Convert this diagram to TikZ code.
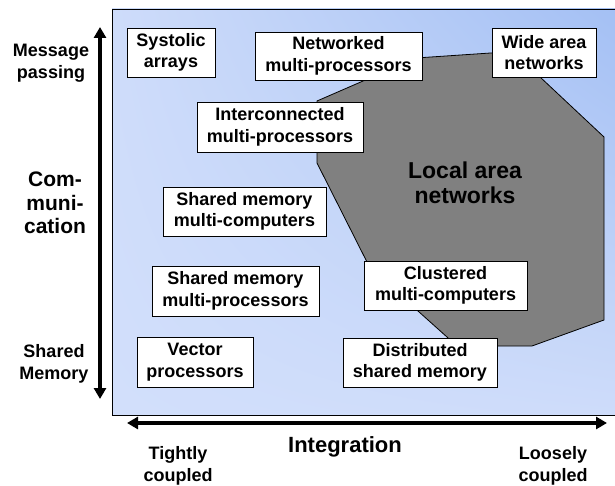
\documentclass[tikz,border=0pt]{standalone}
\usepackage{fontspec}
\setmainfont{Liberation Sans}
\usetikzlibrary{arrows.meta,shadings}
\definecolor{panelLL}{RGB}{210,223,251}
\definecolor{panelUL}{RGB}{206,220,250}
\definecolor{panelUR}{RGB}{164,192,244}
\definecolor{panelLR}{RGB}{206,220,250}
\definecolor{lan}{RGB}{128,128,128}
\tikzset{
  cat/.style={draw=black, line width=0.8pt, fill=white, inner sep=0pt, align=center,
    font=\bfseries\fontsize{18}{21.5}\selectfont},
  axlabel/.style={align=center, inner sep=0pt, font=\bfseries\fontsize{18}{21.5}\selectfont},
  biglabel/.style={align=center, inner sep=0pt, font=\bfseries\fontsize{21}{23.5}\selectfont},
  axis/.style={line width=3.2pt, {Triangle[length=11pt,width=12pt]}-{Triangle[length=11pt,width=12pt]}},
}
\begin{document}
\begin{tikzpicture}[x=1pt,y=-1pt]
\useasboundingbox (0,0) rectangle (615,486);
% panel
\shade[upper left=panelUL, upper right=panelUR, lower left=panelLL, lower right=panelLR]
  (112,9) rectangle (615,415);
\draw[line width=0.8pt] (615,9) -- (112,9) -- (112,415) -- (615,415);
% local area network region
\draw[fill=lan, line width=0.8pt] (317,163) -- (317,101) -- (416,58) -- (513,51.5) -- (540,77)
  -- (604,137) -- (604,320) -- (532,346) -- (457,346) -- (370,268) -- cycle;
\node[align=center, inner sep=0pt, font=\bfseries\fontsize{23}{25}\selectfont] (lantext) at (465,183) {Local area\\networks};
% category boxes
\node[cat, minimum width=88pt, minimum height=49pt] (sys) at (171,52.5) {Systolic\\arrays};
\node[cat, minimum width=167pt, minimum height=48pt] (net) at (338.5,56) {Networked\\multi-processors};
\node[cat, minimum width=104pt, minimum height=49pt] (wan) at (544,52.5) {Wide area\\networks};
\node[cat, minimum width=166pt, minimum height=50pt] (inter) at (280,127) {Interconnected\\multi-processors};
\node[cat, minimum width=163pt, minimum height=49pt] (smc) at (244.5,211.5) {Shared memory\\multi-computers};
\node[cat, minimum width=167pt, minimum height=50pt] (smp) at (235.5,291) {Shared memory\\multi-processors};
\node[cat, minimum width=116pt, minimum height=50pt] (vec) at (195,362) {Vector\\processors};
\node[cat, minimum width=163pt, minimum height=49pt] (clu) at (445.5,285.5) {Clustered\\multi-computers};
\node[cat, minimum width=154pt, minimum height=49pt] (dsm) at (420,362.5) {Distributed\\shared memory};
% axes
\coordinate (vtop) at (100,27);
\coordinate (vbot) at (100,399);
\coordinate (hleft) at (127,423);
\coordinate (hright) at (607,423);
\draw[axis] (vtop) -- (vbot);
\draw[axis] (hleft) -- (hright);
% axis labels
\node[axlabel] (msg) at (51,63) {Message\\passing};
\node[biglabel] (comm) at (55,203) {Com-\\muni-\\cation};
\node[axlabel] (shm) at (54,364) {Shared\\Memory};
\node[axlabel] (tight) at (178,466) {Tightly\\coupled};
\node[axlabel, font=\bfseries\fontsize{22}{24}\selectfont] (integ) at (345,447) {Integration};
\node[axlabel] (loose) at (553,466) {Loosely\\coupled};
\end{tikzpicture}
\end{document}
